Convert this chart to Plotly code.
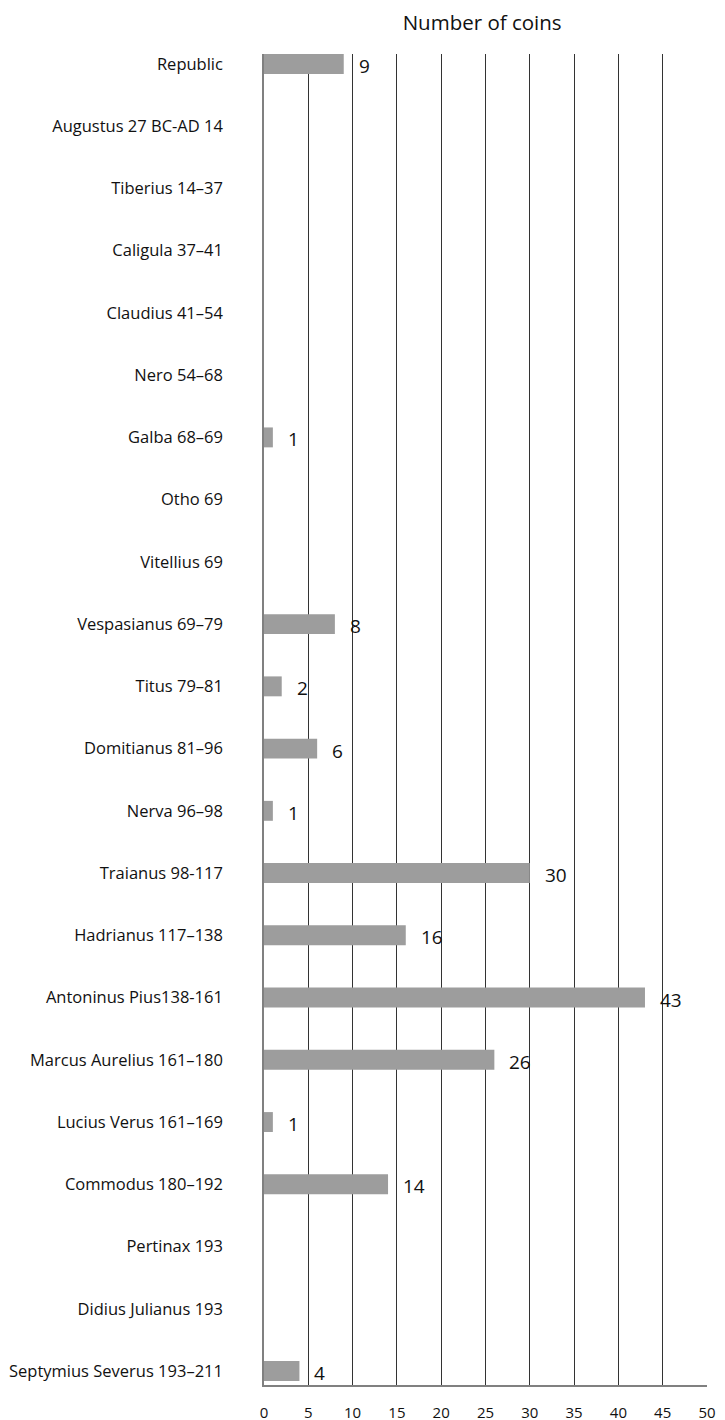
import plotly.graph_objects as go

categories = [
    "Republic", "Augustus 27 BC-AD 14", "Tiberius 14–37", "Caligula 37–41",
    "Claudius 41–54", "Nero 54–68", "Galba 68–69", "Otho 69", "Vitellius 69",
    "Vespasianus 69–79", "Titus 79–81", "Domitianus 81–96", "Nerva 96–98",
    "Traianus 98-117", "Hadrianus 117–138", "Antoninus Pius138-161",
    "Marcus Aurelius 161–180", "Lucius Verus 161–169", "Commodus 180–192",
    "Pertinax 193", "Didius Julianus 193", "Septymius Severus 193–211",
]
coins = [9, 0, 0, 0, 0, 0, 1, 0, 0, 8, 2, 6, 1, 30, 16, 43, 26, 1, 14, 0, 0, 4]
x_ticks = [0, 5, 10, 15, 20, 25, 30, 35, 40, 45, 50]

FONT = "Open Sans"

fig = go.Figure()
fig.add_trace(go.Bar(
    x=coins, y=categories, orientation="h",
    marker=dict(color="#9d9d9d", line=dict(width=0)),
    width=0.32, hoverinfo="x+y",
))

for cat, v in zip(categories, coins):
    if v > 0:
        fig.add_annotation(x=v, y=cat, text=str(v), showarrow=False,
                           xanchor="left", yanchor="middle", xshift=13, yshift=-2,
                           font=dict(family=FONT, size=19, color="#111"))

fig.update_layout(
    width=725, height=1420,
    margin=dict(l=256, r=26, t=46, b=43, autoexpand=False),
    paper_bgcolor="white", plot_bgcolor="white",
    showlegend=False,
    title=dict(text="Number of coins", x=0.654, xanchor="center", y=0.9893, yanchor="middle",
               font=dict(family=FONT, size=20.5, color="#111")),
    xaxis=dict(range=[0, 50], tickvals=x_ticks, showgrid=True, gridcolor="#333",
               gridwidth=1, zeroline=False, showline=True, linecolor="#808080", linewidth=1.5,
               ticks="outside", ticklen=13, tickcolor="rgba(0,0,0,0)", automargin=False,
               tickfont=dict(family=FONT, size=15, color="#111"), fixedrange=True),
    yaxis=dict(categoryorder="array", categoryarray=categories,
               range=[21.225, -0.16], showgrid=False, zeroline=False,
               showline=True, linecolor="#808080", linewidth=1.5,
               ticks="", ticklabelstandoff=36, automargin=False,
               tickfont=dict(family=FONT, size=16.5, color="#111"), fixedrange=True),
    font=dict(family=FONT),
)

fig.write_html("out.html")
